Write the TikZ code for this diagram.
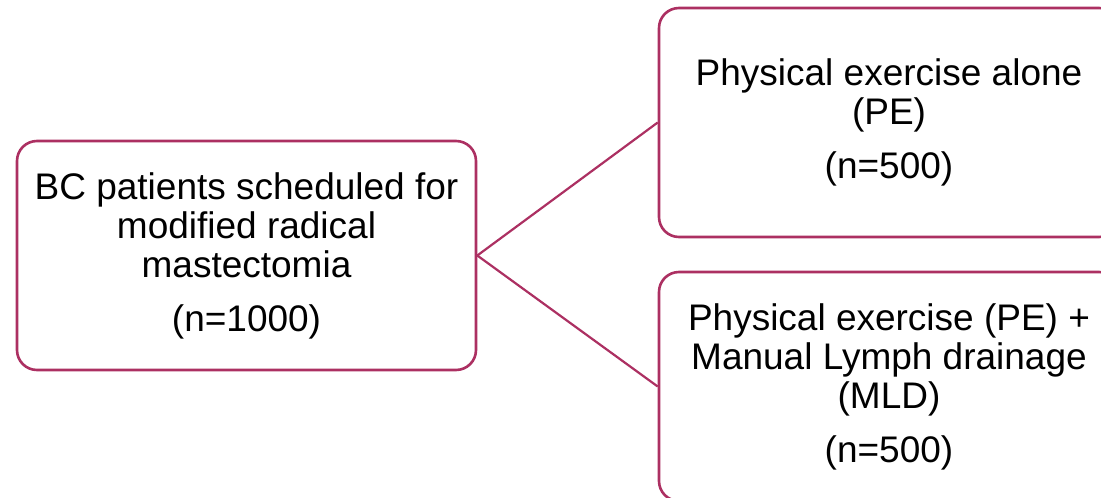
\documentclass[tikz,border=0pt]{standalone}
\usepackage{fontspec}
\setmainfont{Liberation Sans}
\definecolor{boxline}{RGB}{172,48,98}
\tikzset{
  stagebox/.style={draw=boxline, line width=2.6pt, rounded corners=20pt, fill=white,
    minimum width=#1, minimum height=229pt, inner sep=0pt, align=center,
    font=\fontsize{37}{39}\selectfont},
  stagebox/.default=459pt,
  link/.style={draw=boxline, line width=2.2pt}
}
\begin{document}
\begin{tikzpicture}[x=1pt,y=1pt]
\useasboundingbox (0,0) rectangle (1101,-498);
\clip (0,0) rectangle (1101,-498);
\node[stagebox=459pt] (src) at (246.5,-255.5) {BC patients scheduled for\\modified radical\\mastectomia\\[15pt](n=1000)};
\node[stagebox=460pt] (pe) at (889,-122.5) {Physical exercise alone\\(PE)\\[15pt](n=500)};
\node[stagebox=460pt] (mld) at (889,-386.5) {Physical exercise (PE) +\\Manual Lymph drainage\\(MLD)\\[15pt](n=500)};
\draw[link] (src.east) -- (pe.west);
\draw[link] (src.east) -- (mld.west);
\end{tikzpicture}
\end{document}
